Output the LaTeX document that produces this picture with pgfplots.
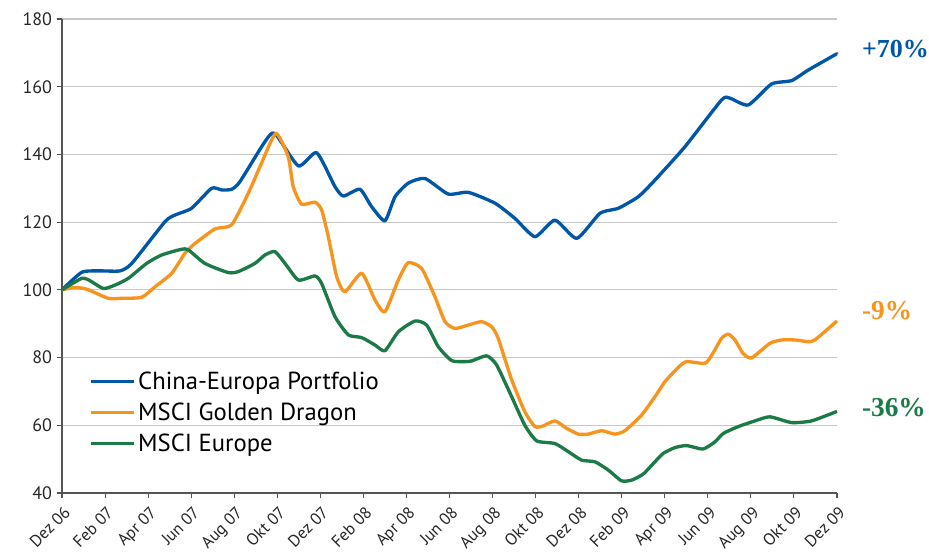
\documentclass[border=0pt]{standalone}
\usepackage{pgfplots}
\pgfplotsset{compat=1.18}
\usepackage{fontspec}
\setmainfont{PT Sans}
\newfontfamily\annfont{Liberation Serif}
\definecolor{cblue}{HTML}{0057A8}
\definecolor{corange}{HTML}{F7941E}
\definecolor{cgreen}{HTML}{1B7A45}
\definecolor{axgray}{HTML}{555555}
\definecolor{gridgray}{HTML}{C8C8C8}
\begin{document}
\begin{tikzpicture}[x=1pt,y=1pt]
\useasboundingbox (-46.5,-49.5) rectangle (650.25,369.75);
\begin{axis}[
  at={(0,0)}, anchor=south west,
  scale only axis, width=581.25pt, height=355.5pt,
  xmin=0, xmax=36, ymin=40, ymax=180,
  axis x line*=bottom, axis y line*=left,
  axis line style={axgray, line width=0.8pt, -},
  ytick={40,60,...,180},
  xtick={0,2,...,36},
  xticklabels={Dez 06,Feb 07,Apr 07,Jun 07,Aug 07,Okt 07,Dez 07,Feb 08,Apr 08,Jun 08,Aug 08,Okt 08,Dez 08,Feb 09,Apr 09,Jun 09,Aug 09,Okt 09,Dez 09},
  tick align=outside,
  major tick length=4pt,
  tick style={axgray, line width=0.8pt},
  ymajorgrids,
  major grid style={gridgray, line width=0.8pt},
  /pgf/number format/assume math mode=true,
  yticklabel style={font=\fontsize{13.5}{14}\selectfont, color=black!85},
  xticklabel style={rotate=45, anchor=north east, font=\fontsize{12.5}{13}\selectfont, color=black!85, inner sep=1pt, yshift=-3pt, xshift=-2pt},
  clip=false,
  legend style={at={(0.03,0.268)}, anchor=north west, draw=none, fill=none,
    font=\fontsize{18.5}{21}\selectfont, row sep=4.6pt,
    /tikz/every even column/.append style={column sep=4pt}},
  legend cell align=left,
  legend image code/.code={\draw[#1] (0pt,0pt) -- (32pt,0pt);},
  every axis plot/.append style={line width=2.5pt, smooth, tension=0.35, line join=round},
]
\addplot[cblue] coordinates {
(0,100) (0.92,105.2) (1.76,105.6) (2.69,105.6) (3.24,107.8) (4.78,120.1) (5.25,122.1)
(6.02,124.1) (6.95,130) (7.42,129.5) (7.88,129.7) (8.27,132) (9.43,143.8) (9.89,146.2)
(10.98,136.6) (11.83,140.5) (12.68,130.5) (13.07,127.7) (13.84,129.7) (14.38,124.6) (15.00,120.4)
(15.47,127.5) (16.08,131.5) (16.86,132.9) (17.94,128.3) (18.87,128.8) (20.11,125.6) (21.04,121.1)
(21.97,115.7) (22.90,120.6) (23.91,115.2) (24.99,122.6) (25.84,124.1) (26.77,127.5) (27.54,132.4)
(28.94,142.3) (30.64,156.1) (31.03,156.6) (31.88,154.6) (32.96,160.8) (33.89,161.8) (34.66,164.9)
(35.90,169.4) (36,169.7)
};
\addlegendentry{China-Europa Portfolio}
\addplot[corange] coordinates {
(0,100) (0.60,100.7) (1.15,100.2) (2.15,97.5) (2.77,97.5) (3.70,97.8) (4.32,100.9) (5.10,104.9)
(5.71,110.8) (6.18,113.7) (7.11,118) (7.88,119.2) (8.65,128.5) (9.20,136.4) (9.93,146.2)
(10.51,139.3) (10.74,130.5) (11.13,125.3) (11.75,125.9) (12.06,123.6) (12.37,115.7) (12.76,103.9)
(13.14,99.4) (13.92,104.9) (14.54,97.0) (15.00,93.5) (15.62,102.9) (16.08,108.0) (16.71,106.3)
(17.32,98.0) (17.79,90.6) (18.25,88.6) (18.87,89.6) (19.49,90.6) (19.96,89.1) (20.26,85.7)
(20.89,73.4) (21.50,64.0) (21.97,59.6) (22.35,59.8) (22.90,61.3) (23.44,59.1) (23.98,57.4)
(24.45,57.4) (25.07,58.4) (25.68,57.4) (26.15,58.4) (26.92,63.0) (27.54,68.4) (28.01,72.9)
(28.63,77.1) (29.01,78.8) (29.86,78.3) (30.18,80.7) (30.64,85.7) (30.95,86.9) (31.26,85.2)
(31.64,81.2) (32.03,79.9) (32.88,84.2) (33.43,85.2) (34.05,85.2) (34.66,84.7) (34.97,85.2)
(36,90.8)
};
\addlegendentry{MSCI Golden Dragon}
\addplot[cgreen] coordinates {
(0,100) (0.92,103.4) (1.30,102.7) (1.92,100.4) (2.46,101.4) (3.08,103.4) (3.93,107.8) (4.63,110.3)
(5.56,112.0) (5.87,111.8) (6.64,107.8) (7.72,105.1) (8.19,105.4) (8.96,107.8) (9.43,110.3)
(9.89,111.3) (10.36,107.8) (10.98,102.9) (11.75,104.1) (12.06,101.9) (12.68,92.1) (13.30,86.7)
(13.92,85.9) (14.54,83.7) (15.00,82.0) (15.62,87.6) (16.40,90.8) (16.94,89.6) (17.48,83.2)
(18.10,79.1) (18.72,78.8) (19.03,79.0) (19.73,80.5) (20.19,77.8) (20.89,68.4) (21.50,60.0)
(22.05,55.4) (22.90,54.6) (23.52,52.2) (24.14,49.7) (24.76,49.2) (25.37,46.8) (25.99,43.6)
(26.46,43.8) (27.00,45.6) (27.54,49.2) (27.93,51.7) (28.47,53.4) (29.01,54.0) (29.78,53.0)
(30.33,55.1) (30.72,57.6) (31.41,59.6) (32.19,61.3) (32.88,62.5) (33.89,60.8) (34.82,61.3)
(36,64.1)
};
\addlegendentry{MSCI Europe}
\node[anchor=west, inner sep=0pt, text=cblue, font=\annfont\bfseries\fontsize{19.5}{21}\selectfont] at (axis cs:37.15,171.1) {+70\%};
\node[anchor=west, inner sep=0pt, text=corange, font=\annfont\bfseries\fontsize{20.5}{22}\selectfont] at (axis cs:37.15,94.0) {-9\%};
\node[anchor=west, inner sep=0pt, text=cgreen, font=\annfont\bfseries\fontsize{20.5}{22}\selectfont] at (axis cs:37.15,65.1) {-36\%};
\end{axis}
\end{tikzpicture}
\end{document}
